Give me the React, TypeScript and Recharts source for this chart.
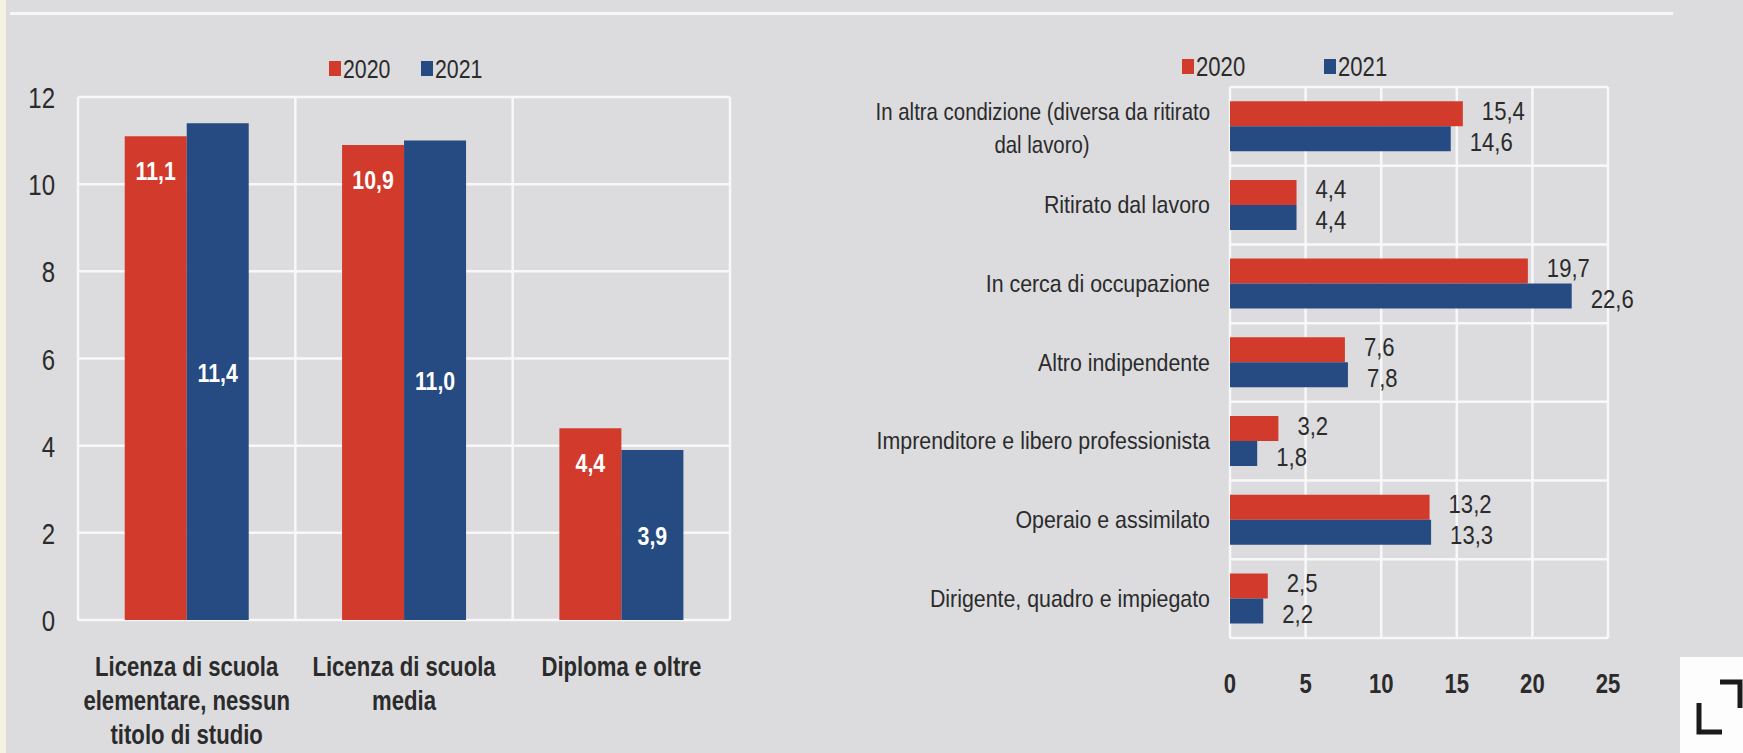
import { BarChart, Bar, XAxis, YAxis, CartesianGrid, LabelList } from "recharts";

const FONT = "'Liberation Sans', Arial, sans-serif";
const RED = "#d23b2b";
const BLUE = "#264a82";
const TEXT = "#2b2b2b";

const years = ["2020", "2021"];

// left panel: titolo di studio
const eduCategories = [
  "Licenza di scuola\nelementare, nessun\ntitolo di studio",
  "Licenza di scuola\nmedia",
  "Diploma e oltre",
];
const edu2020 = [11.1, 10.9, 4.4];
const edu2021 = [11.4, 11.0, 3.9];
const eduTicks = [0, 2, 4, 6, 8, 10, 12];

// right panel: condizione professionale
const jobCategories = [
  "In altra condizione (diversa da ritirato\ndal lavoro)",
  "Ritirato dal lavoro",
  "In cerca di occupazione",
  "Altro indipendente",
  "Imprenditore e libero professionista",
  "Operaio e assimilato",
  "Dirigente, quadro e impiegato",
];
const job2020 = [15.4, 4.4, 19.7, 7.6, 3.2, 13.2, 2.5];
const job2021 = [14.6, 4.4, 22.6, 7.8, 1.8, 13.3, 2.2];
const jobTicks = [0, 5, 10, 15, 20, 25];

const eduData = eduCategories.map((name, i) => ({ name, y2020: edu2020[i], y2021: edu2021[i] }));
const jobData = jobCategories.map((name, i) => ({ name, y2020: job2020[i], y2021: job2021[i] }));

const fmt = (v: any) => Number(v).toFixed(1).replace(".", ",");

// grid lines on category boundaries instead of band centres
const vBands = (n: number) => ({ offset }: any) =>
  Array.from({ length: n + 1 }, (_, i) => offset.left + (i * offset.width) / n);
const hBands = (n: number) => ({ offset }: any) =>
  Array.from({ length: n + 1 }, (_, i) => offset.top + (i * offset.height) / n);

// Arial Narrow look-alike: Liberation Sans squeezed horizontally
function NText({ x, y, size, sx = 0.82, anchor = "start", weight = "normal", fill = TEXT, children }: any) {
  return (
    <text
      transform={`translate(${x},${y}) scale(${sx},1)`}
      textAnchor={anchor}
      fontSize={size}
      fontWeight={weight}
      fill={fill}
      fontFamily={FONT}
    >
      {children}
    </text>
  );
}

function EduYTick({ x, y, payload }: any) {
  return <NText x={x} y={y + 11} size={30} sx={0.8} anchor="end">{payload.value}</NText>;
}

function EduXTick({ x, y, payload }: any) {
  const lines = String(payload.value).split("\n");
  return (
    <g>
      {lines.map((l, i) => (
        <NText key={i} x={x} y={y + 56 + i * 34} size={27} weight="bold" anchor="middle">
          {l}
        </NText>
      ))}
    </g>
  );
}

function JobYTick({ x, y, payload }: any) {
  const lines = String(payload.value).split("\n");
  if (lines.length === 1) {
    return <NText x={x} y={y + 8} size={24} sx={0.89} anchor="end">{lines[0]}</NText>;
  }
  return (
    <g>
      <NText x={x} y={y - 6} size={24} sx={0.85} anchor="end">{lines[0]}</NText>
      <NText x={x - 168} y={y + 27} size={24} sx={0.85} anchor="middle">{lines[1]}</NText>
    </g>
  );
}

function JobXTick({ x, y, payload }: any) {
  return <NText x={x} y={y + 55} size={27} weight="bold" anchor="middle">{payload.value}</NText>;
}

const box = (p: any) => p.viewBox || p;

function RedInside(p: any) {
  const b = box(p);
  return (
    <NText x={b.x + b.width / 2} y={b.y + 44} size={26} weight="bold" fill="#fff" anchor="middle">
      {fmt(p.value)}
    </NText>
  );
}

function BlueCenter(p: any) {
  const b = box(p);
  return (
    <NText x={b.x + b.width / 2} y={b.y + b.height / 2 + 10} size={26} weight="bold" fill="#fff" anchor="middle">
      {fmt(p.value)}
    </NText>
  );
}

// value labels right of the bars; 2020 nudged up, 2021 nudged down
const RightOf = (shift: number) => (p: any) => {
  const b = box(p);
  return (
    <NText x={b.x + b.width + 19} y={b.y + b.height / 2 + 9 + shift} size={26} sx={0.85}>
      {fmt(p.value)}
    </NText>
  );
};
const RightOfRed = RightOf(-3);
const RightOfBlue = RightOf(3);

function YearLegend({ x, y, size, step }: any) {
  return (
    <g>
      {years.map((yr, i) => (
        <g key={yr}>
          <rect x={x + i * step} y={y - 8} width={12} height={15} fill={i === 0 ? RED : BLUE} />
          <NText x={x + i * step + 14} y={y + 9} size={size}>{yr}</NText>
        </g>
      ))}
    </g>
  );
}

export default function App() {
  return (
    <div
      style={{
        position: "absolute",
        left: 0,
        top: 0,
        width: 1743,
        height: 753,
        background: "#dcdcdf",
        overflow: "hidden",
      }}
    >
      <div style={{ position: "absolute", left: 0, top: 0, width: 6, height: 753, background: "#f6f2e3" }} />
      <div style={{ position: "absolute", left: 10, top: 12, width: 1663, height: 3, background: "#f7f7f7" }} />

      {/* left: bars by education */}
      <div style={{ position: "absolute", left: 0, top: 0 }}>
        <BarChart
          width={830}
          height={753}
          data={eduData}
          margin={{ top: 97, right: 100, bottom: 0, left: 0 }}
          barCategoryGap="21.5%"
          barGap={0}
        >
          <CartesianGrid stroke="#f8f8f8" strokeWidth={2.5} verticalCoordinatesGenerator={vBands(3)} />
          <XAxis
            dataKey="name"
            height={133}
            axisLine={false}
            tickLine={false}
            tickSize={0}
            tickMargin={0}
            interval={0}
            tick={<EduXTick />}
          />
          <YAxis
            width={78}
            domain={[0, 12]}
            ticks={eduTicks}
            axisLine={false}
            tickLine={false}
            tickSize={0}
            tickMargin={23}
            tick={<EduYTick />}
          />
          <Bar dataKey="y2020" fill={RED} isAnimationActive={false}>
            <LabelList dataKey="y2020" content={<RedInside />} />
          </Bar>
          <Bar dataKey="y2021" fill={BLUE} isAnimationActive={false}>
            <LabelList dataKey="y2021" content={<BlueCenter />} />
          </Bar>
        </BarChart>
      </div>

      {/* right: bars by professional condition */}
      <div style={{ position: "absolute", left: 820, top: 0 }}>
        <BarChart
          width={923}
          height={753}
          data={jobData}
          layout="vertical"
          margin={{ top: 87, right: 135, bottom: 0, left: 0 }}
          barCategoryGap="18%"
          barGap={0}
        >
          <CartesianGrid stroke="#f8f8f8" strokeWidth={2.5} horizontalCoordinatesGenerator={hBands(7)} />
          <XAxis
            type="number"
            domain={[0, 25]}
            ticks={jobTicks}
            height={115}
            axisLine={false}
            tickLine={false}
            tickSize={0}
            tickMargin={0}
            tick={<JobXTick />}
          />
          <YAxis
            type="category"
            dataKey="name"
            width={410}
            axisLine={false}
            tickLine={false}
            tickSize={0}
            tickMargin={20}
            interval={0}
            tick={<JobYTick />}
          />
          <Bar dataKey="y2020" fill={RED} isAnimationActive={false}>
            <LabelList dataKey="y2020" content={<RightOfRed />} />
          </Bar>
          <Bar dataKey="y2021" fill={BLUE} isAnimationActive={false}>
            <LabelList dataKey="y2021" content={<RightOfBlue />} />
          </Bar>
        </BarChart>
      </div>

      {/* legends */}
      <svg width={1743} height={753} style={{ position: "absolute", left: 0, top: 0, pointerEvents: "none" }}>
        <YearLegend x={329} y={69} size={26} step={92} />
        <YearLegend x={1182} y={67} size={27} step={142} />
      </svg>

      {/* expand icon box, bottom right */}
      <div style={{ position: "absolute", left: 1680, top: 657, width: 63, height: 96, background: "#fdfdfd" }}>
        <svg width={63} height={96}>
          <path d="M40 25 H60 V51" stroke="#1a1a1a" strokeWidth={5} fill="none" />
          <path d="M19 46 V75 H42" stroke="#1a1a1a" strokeWidth={5} fill="none" />
        </svg>
      </div>
    </div>
  );
}
